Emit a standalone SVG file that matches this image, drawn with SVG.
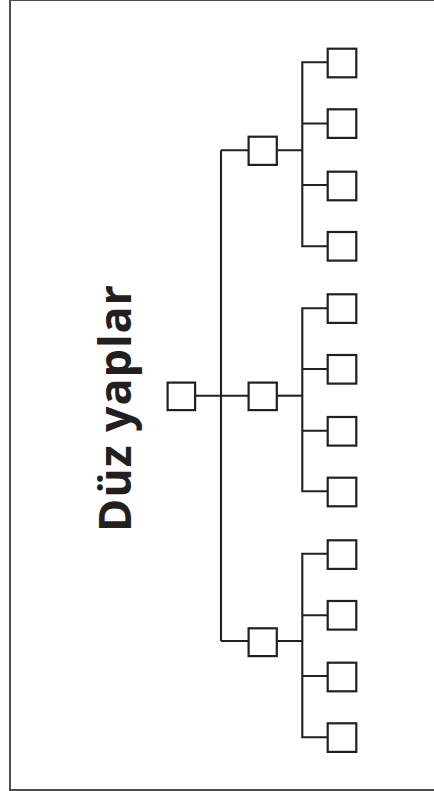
<svg xmlns="http://www.w3.org/2000/svg" width="434" height="791" viewBox="0 0 434 791">
<style>
.box{fill:#fff;stroke:#231f20;stroke-width:2.2}
.ln{fill:none;stroke:#231f20;stroke-width:2.1}
.title{font-family:"Open Sans","Noto Sans","Liberation Sans",sans-serif;font-weight:bold;font-size:45px;fill:#231f20}
</style>
<rect x="10" y="0" width="440" height="790" fill="#fff" stroke="#4d4d4d" stroke-width="2"/>
<text class="title" transform="translate(131,408.5) rotate(-90)" text-anchor="middle" textLength="247" lengthAdjust="spacing">Düz yaplar</text>
<g id="connectors" class="ln">
<path d="M196 395.7H248"/>
<path d="M221 150.3V641"/>
<path d="M221 150.3H248.5M277.5 150.3H302.3"/>
<path d="M277.5 395.7H302.3"/>
<path d="M221 641H248.5M277.5 641H302.3"/>
<path d="M327.5 62.3H302.3V246.3H327.5M302.3 123.5H327.5M302.3 185H327.5"/>
<path d="M327.5 308.3H302.3V491.3H327.5M302.3 369H327.5M302.3 430.7H327.5"/>
<path d="M327.5 553.7H302.3V737.3H327.5M302.3 615.3H327.5M302.3 676H327.5"/>
</g>
<g id="root"><rect class="box" x="167.6" y="382.6" width="27.5" height="27.5"/></g>
<g id="mid1"><rect class="box" x="248.6" y="136.7" width="28.2" height="28.2"/></g>
<g id="mid2"><rect class="box" x="248.6" y="382.6" width="28.2" height="27.5"/></g>
<g id="mid3"><rect class="box" x="248.6" y="628.3" width="28.2" height="27.8"/></g>
<g id="leaf1"><rect class="box" x="327.7" y="48.7" width="28.6" height="28.6"/></g>
<g id="leaf2"><rect class="box" x="327.7" y="109.3" width="28.6" height="28.6"/></g>
<g id="leaf3"><rect class="box" x="327.7" y="171.7" width="28.6" height="28.6"/></g>
<g id="leaf4"><rect class="box" x="327.7" y="232" width="28.6" height="28.6"/></g>
<g id="leaf5"><rect class="box" x="327.7" y="294.3" width="28.6" height="28.6"/></g>
<g id="leaf6"><rect class="box" x="327.7" y="355" width="28.6" height="28.6"/></g>
<g id="leaf7"><rect class="box" x="327.7" y="417" width="28.6" height="28.6"/></g>
<g id="leaf8"><rect class="box" x="327.7" y="477.7" width="28.6" height="28.6"/></g>
<g id="leaf9"><rect class="box" x="327.7" y="540.3" width="28.6" height="28.6"/></g>
<g id="leaf10"><rect class="box" x="327.7" y="601" width="28.6" height="28.6"/></g>
<g id="leaf11"><rect class="box" x="327.7" y="662.7" width="28.6" height="28.6"/></g>
<g id="leaf12"><rect class="box" x="327.7" y="723.3" width="28.6" height="28.6"/></g>
</svg>
